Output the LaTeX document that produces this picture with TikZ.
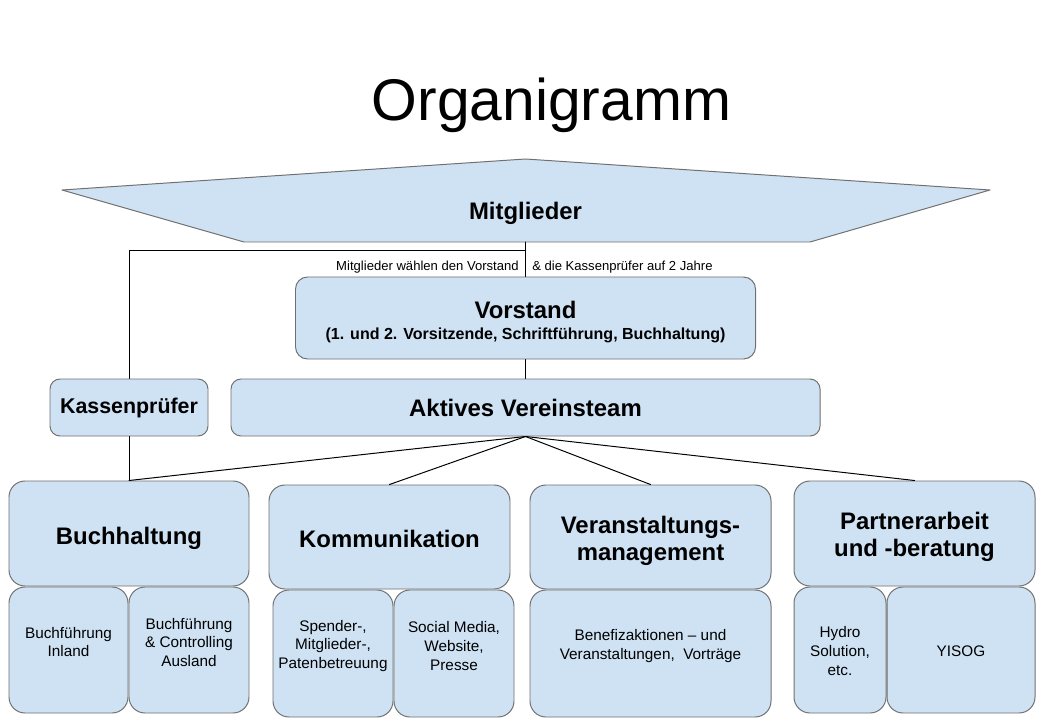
\documentclass[tikz,border=0pt]{standalone}
\usepackage{fontspec}
\setmainfont{Liberation Sans}
\definecolor{orgblue}{RGB}{207,226,243}
\definecolor{orgline}{RGB}{112,112,112}
\newcommand{\oben}[1]{\rule{0pt}{#1}}

\begin{document}
\begin{tikzpicture}[x=0.025cm,y=-0.025cm,line cap=round,line join=round,
  orgbox/.style 2 args={draw=orgline,fill=orgblue,line width=0.7pt,rounded corners=0.4cm,
    minimum width=#1*0.025cm,minimum height=#2*0.025cm,inner sep=0pt,align=center},
  bigtext/.style={font=\fontsize{17}{19}\selectfont\bfseries},
  smalltext/.style={font=\fontsize{10.9}{13.2}\selectfont,align=center},
  wahltext/.style={font=\fontsize{9.3}{11}\selectfont,inner sep=0pt},
  connector/.style={line width=0.7pt,black}]
\fill[white] (0,0) rectangle (1058,728);
\useasboundingbox (0,0) rectangle (1058,728);
% title
\node (titel) at (551.5,105) {\fontsize{41.8}{50}\selectfont Organigramm};
% Mitglieder
\draw [draw=orgline,fill=orgblue,line width=0.7pt] (525.5,159) -- (990,190) -- (810,242) -- (244,242) -- (62,190) -- cycle;
\node[bigtext] (mitglieder) at (525.5,213) {Mitglieder};
\coordinate (mitglieder unten) at (525.5,242);
\coordinate (abzweig) at (525.5,250);
\node[wahltext,anchor=east] (wahl links) at (519,267) {Mitglieder wählen den Vorstand};
\node[wahltext,anchor=west] (wahl rechts) at (532,267) {\& die Kassenprüfer auf 2 Jahre};
% Vorstand, Kassenpruefer, Team
\node[orgbox={460}{82},rounded corners=0.3cm,font=\fontsize{11.4}{15.6}\selectfont\bfseries] (vorstand) at (525.5,318)
  {{\fontsize{17}{15.6}\selectfont\oben{18pt}Vorstand}\\[-1.2pt](1. und 2. Vorsitzende, Schriftführung, Buchhaltung)};
\node[orgbox={158}{57},rounded corners=0.25cm,font=\fontsize{15.2}{17}\selectfont\bfseries] (kasse) at (129,407.5) {\oben{12pt}Kassenprüfer};
\node[orgbox={589}{57},rounded corners=0.25cm,bigtext] (team) at (525.5,407.5) {Aktives Vereinsteam};
% Bereiche
\node[orgbox={240}{105},bigtext] (buchhaltung) at (129,533.5) {\oben{19.5pt}Buchhaltung};
\node[orgbox={241}{104},bigtext] (kommunikation) at (389.5,537) {\oben{15.2pt}Kommunikation};
\node[orgbox={241}{104},bigtext] (veranstaltung) at (650.5,537) {\oben{18pt}Veranstaltungs-\\management};
\node[orgbox={241}{105},bigtext] (partner) at (914.5,533.5) {\oben{16.7pt}Partnerarbeit\\und -beratung};
% Unterbereiche
\node[orgbox={119}{126}] (inland) at (68.5,650) {};
\node[orgbox={120}{126}] (ausland) at (189,650) {};
\node[orgbox={120}{127}] (spender) at (333,653.5) {};
\node[orgbox={120}{127}] (social) at (454,653.5) {};
\node[orgbox={241}{127}] (benefiz) at (650.5,653.5) {};
\node[orgbox={92}{126}] (hydro) at (840,650) {};
\node[orgbox={148}{126}] (yisog) at (961,650) {};
\node[smalltext] (t inland) at (68.5,642) {Buchführung\\Inland};
\node[smalltext] (t ausland) at (189,642.5) {Buchführung\\\& Controlling\\Ausland};
\node[smalltext] (t spender) at (333,646) {Spender-,\\Mitglieder-,\\Patenbetreuung};
\node[smalltext] (t social) at (454,646) {Social Media,\\Website,\\Presse};
\node[smalltext] (t benefiz) at (650.5,646) {Benefizaktionen -- und\\Veranstaltungen,\ \ Vorträge};
\node[smalltext] (t hydro) at (840,651) {Hydro\\Solution,\\etc.};
\node[smalltext] (t yisog) at (961,651) {YISOG};
% Verbindungen
\draw[connector] (mitglieder unten) -- (vorstand.north);
\draw[connector] (abzweig) -| (kasse.north);
\draw[connector] (vorstand.south) -- (team.north);
\draw[connector] (kasse.south) -- (buchhaltung.north);
\foreach \ziel in {buchhaltung,kommunikation,veranstaltung,partner}
  \draw[connector] (team.south) -- (\ziel.north);
\end{tikzpicture}
\end{document}
